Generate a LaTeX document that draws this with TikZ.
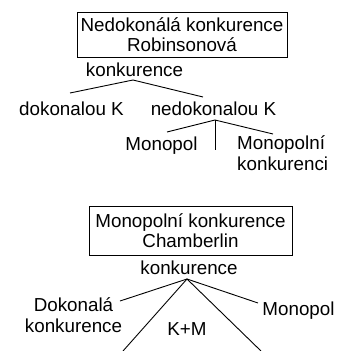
\documentclass[tikz,border=0pt]{standalone}
\usepackage{fontspec}
\setmainfont{Liberation Sans}
\begin{document}
\begin{tikzpicture}[x=1pt,y=-1pt,
  every node/.style={font=\fontsize{18.8}{20.5}\selectfont, inner sep=0pt},
  lbl/.style={anchor=base},
  titlebox/.style={draw, line width=1pt, align=center},
  branch/.style={line width=0.9pt}]
\useasboundingbox (0,0) rectangle (341,351);
% ---- top diagram ----
\node[titlebox, minimum width=210pt, minimum height=45pt] (box1) at (182,34.5) {Nedokonálá konkurence\\Robinsonová};
\node[lbl] (k1) at (134.5,76) {konkurence};
\node[lbl] (dk) at (71.5,115) {dokonalou K};
\node[lbl] (nk) at (213.5,115) {nedokonalou K};
\node[lbl] (mp) at (161.5,150) {Monopol};
\node[anchor=base west, align=left] (mk) at (237,170) {Monopolní\\konkurenci};
\coordinate (p1) at (133,80);
\coordinate (a1) at (70,93);
\coordinate (b1) at (203,97);
\draw[branch] (a1) -- (p1) -- (b1);
\coordinate (p2) at (215,120);
\coordinate (a2) at (167,132);
\coordinate (b2) at (273,134);
\coordinate (c2) at (215,150);
\draw[branch] (a2) -- (p2) -- (b2);
\draw[branch] (p2) -- (c2);
% ---- bottom diagram ----
\node[titlebox, minimum width=203pt, minimum height=49pt] (box2) at (190.5,230.5) {Monopolní konkurence\\Chamberlin};
\node[lbl] (k2) at (189,274) {konkurence};
\node[align=center, anchor=base] (dok) at (73.5,332) {Dokonalá\\konkurence};
\node[lbl] (mon) at (298.5,315) {Monopol};
\node[lbl] (km) at (187,335) {K+M};
\coordinate (p3) at (187,279);
\coordinate (a3) at (120,301);
\coordinate (b3) at (258,303);
\coordinate (c3) at (123,351);
\coordinate (d3) at (261,351);
\draw[branch] (a3) -- (p3) -- (b3);
\draw[branch] (c3) -- (p3) -- (d3);
\end{tikzpicture}
\end{document}
